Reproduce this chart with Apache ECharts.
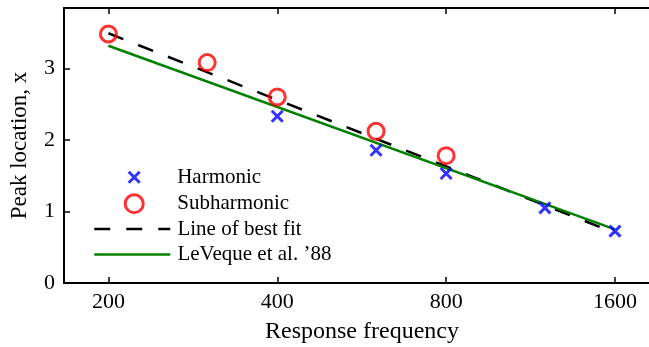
<!DOCTYPE html>
<html><head><meta charset="utf-8">
<script src="https://cdn.jsdelivr.net/npm/echarts@6/dist/echarts.min.js"></script>
<style>html,body{margin:0;padding:0;background:#fff}#c{width:649px;height:347px}</style>
</head><body><div id="c"></div>
<script>
const xTicks = [200, 400, 800, 1600];
const yTicks = [0, 1, 2, 3];
const harmFreq = [400, 600, 800, 1200, 1600];
const harmPeak = [2.33, 1.855, 1.53, 1.05, 0.725];
const subFreq = [200, 300, 400, 600, 800];
const subPeak = [3.48, 3.08, 2.60, 2.12, 1.78];
const fitFreq = [200, 1600];
const fitPeak = [3.49, 0.70];
const levFreq = [200, 1600];
const levPeak = [3.316, 0.75];

const log2 = Math.log2;
const pts = (f, v) => f.map((x, i) => [log2(x), v[i]]);
const FONT = 'Liberation Serif';
const xMin = log2(200) - 0.2629, xMax = log2(1600) + 0.2665;
const tickVals = xTicks.map(log2);
const crossPath = 'path://M0,0L10,10M10,0L0,10';

const chart = echarts.init(document.getElementById('c'), null, {renderer: 'canvas'});
const legBase = {
  orient: 'vertical', padding: 0, itemGap: 4.5,
  selectedMode: false
};
const legText = pad => ({fontFamily: FONT, fontSize: 21, color: '#000', lineHeight: 21, padding: [0, 0, 0, pad]});
chart.setOption({
  animation: false,
  backgroundColor: '#fff',
  grid: {left: 64, right: -11, top: 8, bottom: 64, containLabel: false, outerBoundsMode: 'none'},
  xAxis: [{
    type: 'value', min: xMin, max: xMax, position: 'bottom',
    name: 'Response frequency', nameLocation: 'middle', nameGap: 37,
    nameTextStyle: {fontFamily: FONT, fontSize: 24, color: '#000'},
    axisLine: {show: true, lineStyle: {color: '#000', width: 2}},
    axisTick: {show: true, inside: true, length: 6, customValues: tickVals, lineStyle: {color: '#000', width: 1.5}},
    axisLabel: {show: true, customValues: tickVals, margin: 8, fontFamily: FONT, fontSize: 22, color: '#000',
      formatter: v => String(Math.round(Math.pow(2, v)))},
    splitLine: {show: false}
  }, {
    type: 'value', min: xMin, max: xMax, position: 'top',
    axisLine: {show: true, onZero: false, lineStyle: {color: '#000', width: 2}},
    axisTick: {show: true, inside: true, length: 6, customValues: tickVals, lineStyle: {color: '#000', width: 1.5}},
    axisLabel: {show: false},
    splitLine: {show: false}
  }],
  yAxis: {
    type: 'value', min: 0, max: 3.843,
    name: 'Peak location, x', nameLocation: 'middle', nameGap: 32.5,
    nameTextStyle: {fontFamily: FONT, fontSize: 23, color: '#000'},
    axisLine: {show: true, lineStyle: {color: '#000', width: 2}},
    axisTick: {show: true, inside: true, length: 6, customValues: yTicks, lineStyle: {color: '#000', width: 1.5}},
    axisLabel: {customValues: yTicks, margin: 9, fontFamily: FONT, fontSize: 22, color: '#000'},
    splitLine: {show: false}
  },
  legend: [
    Object.assign({}, legBase, {data: ['Harmonic'], left: 126.2, top: 166.7, itemWidth: 11, itemHeight: 11,
      textStyle: legText(32.5), itemStyle: {borderWidth: 3}}),
    Object.assign({}, legBase, {data: ['Subharmonic'], left: 122.7, top: 192.2, itemWidth: 18, itemHeight: 18,
      textStyle: legText(29), itemStyle: {borderWidth: 3}}),
    Object.assign({}, legBase, {data: ['Line of best fit', 'LeVeque et al. \u201988'], left: 93, top: 218.5, itemWidth: 76, itemHeight: 14,
      textStyle: legText(2.2), lineStyle: {width: 2.5}, itemStyle: {color: 'rgba(0,0,0,0)', borderWidth: 0, opacity: 0}})
  ],
  series: [{
    name: 'Line of best fit', type: 'line', data: pts(fitFreq, fitPeak), symbol: 'none', showSymbol: false, z: 2,
    lineStyle: {color: '#000', width: 2.5, type: [16, 16]}, itemStyle: {color: '#000'}
  }, {
    name: 'LeVeque et al. \u201988', type: 'line', data: pts(levFreq, levPeak), symbol: 'none', showSymbol: false, z: 2,
    lineStyle: {color: '#008000', width: 2.5, type: 'solid'}, itemStyle: {color: '#008000'}
  }, {
    name: 'Harmonic', type: 'scatter', data: pts(harmFreq, harmPeak), symbol: crossPath, symbolSize: 11, z: 3,
    itemStyle: {color: 'none', borderColor: '#0000ff', borderWidth: 3}
  }, {
    name: 'Subharmonic', type: 'scatter', data: pts(subFreq, subPeak), symbol: 'circle', symbolSize: 16, z: 4,
    itemStyle: {color: 'none', borderColor: '#ff0000', borderWidth: 3}
  }]
});
</script></body></html>
